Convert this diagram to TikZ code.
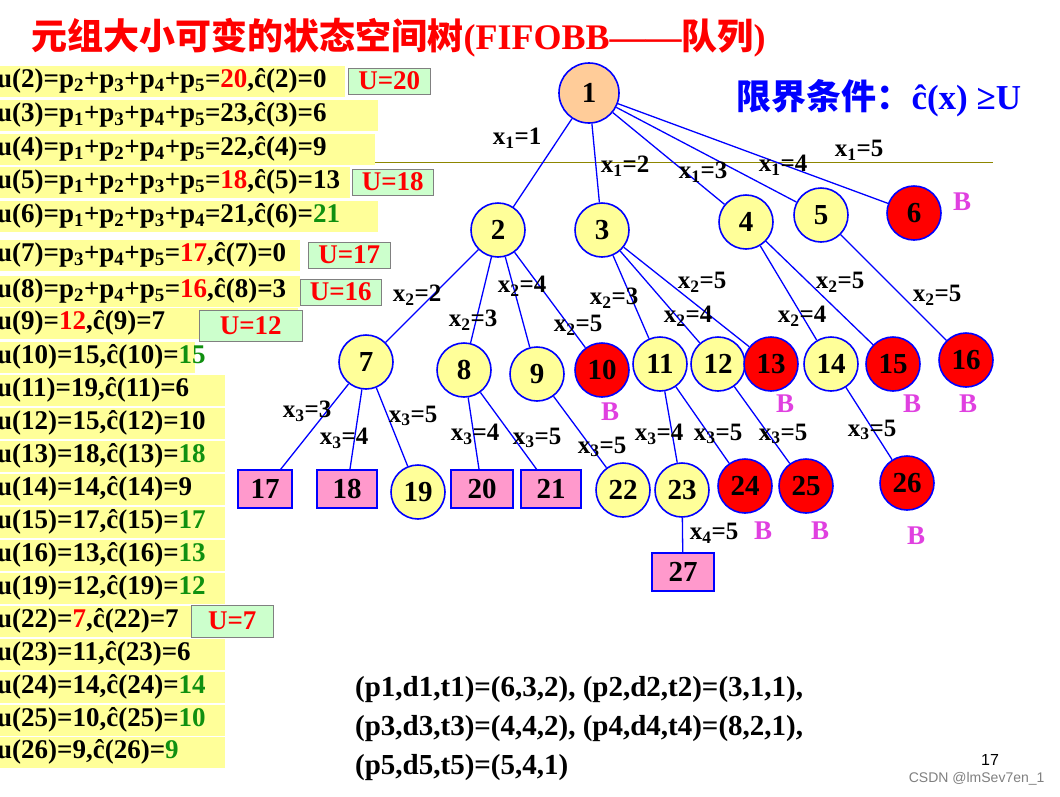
\documentclass[tikz,border=0pt]{standalone}
\usepackage{fontspec}
\setmainfont{Liberation Serif}
\newfontfamily\cjk{Noto Sans CJK SC}
\definecolor{ylw}{HTML}{FFFF99}
\definecolor{pnk}{HTML}{FF99CC}
\definecolor{org}{HTML}{FFCC99}
\definecolor{grn}{HTML}{CCFFCC}
\definecolor{dgrn}{HTML}{109010}
\definecolor{mag}{HTML}{E040E0}
\newcommand{\R}[1]{\textcolor{red}{#1}}
\newcommand{\G}[1]{\textcolor{dgrn}{#1}}
\newcommand{\s}[1]{\textsubscript{#1}}
\begin{document}
\begin{tikzpicture}[x=1pt,y=-1pt,font=\bfseries\fontsize{27}{29}\selectfont,
 cn/.style={circle,draw=blue,line width=1.6pt,fill=ylw,minimum size=54pt,inner sep=0pt,font=\bfseries\fontsize{29}{30}\selectfont},
 rn/.style={cn,fill=red},
 bx/.style={rectangle,draw=blue,line width=1.6pt,fill=pnk,minimum width=54pt,minimum height=38pt,inner sep=0pt,font=\bfseries\fontsize{29}{30}\selectfont},
 ub/.style={draw=gray,fill=grn,text=red,inner sep=1pt,anchor=west,minimum height=26pt,font=\bfseries\fontsize{27}{28}\selectfont},
 el/.style={font=\bfseries\fontsize{25}{26}\selectfont,inner sep=0pt},
 bl/.style={text=mag,font=\bfseries\fontsize{27}{28}\selectfont},
 bt/.style={anchor=west,inner sep=0pt,font=\bfseries\fontsize{29}{30}\selectfont},
 e/.style={draw=blue,line width=1.3pt}]
\useasboundingbox (0,0) rectangle (1060,796);
\fill[white] (0,0) rectangle (1060,796);
\node[anchor=west,text=red,font=\bfseries\fontsize{36}{38}\selectfont] (title) at (28,38) {{\cjk 元组大小可变的状态空间树}(FIFOBB——{\cjk 队列})};
\node[anchor=west,text=blue,font=\bfseries\fontsize{35}{37}\selectfont] (cond) at (733,98) {{\cjk 限界条件：}ĉ(x) ≥U};
\draw[olive,line width=1pt] (375,162) -- (993,162);
% left panel
\foreach \y/\w [count=\i] in {81/345,115/378,149/375,182/350,216/378,255/300,291/300,323/298,357/195,390/225,423/225,456/225,489/225,522/225,555/225,588/225,621/225,654/225,687/225,720/225,752/225}
  \fill[ylw] (0,\y-15.5) rectangle (\w,\y+15.5);
\foreach \y/\t in {
81/{u(2)=p\s2+p\s3+p\s4+p\s5=\R{20},ĉ(2)=0},
115/{u(3)=p\s1+p\s3+p\s4+p\s5=23,ĉ(3)=6},
149/{u(4)=p\s1+p\s2+p\s4+p\s5=22,ĉ(4)=9},
182/{u(5)=p\s1+p\s2+p\s3+p\s5=\R{18},ĉ(5)=13},
216/{u(6)=p\s1+p\s2+p\s3+p\s4=21,ĉ(6)=\G{21}},
255/{u(7)=p\s3+p\s4+p\s5=\R{17},ĉ(7)=0},
291/{u(8)=p\s2+p\s4+p\s5=\R{16},ĉ(8)=3},
323/{u(9)=\R{12},ĉ(9)=7},
357/{u(10)=15,ĉ(10)=\G{15}},
390/{u(11)=19,ĉ(11)=6},
423/{u(12)=15,ĉ(12)=10},
456/{u(13)=18,ĉ(13)=\G{18}},
489/{u(14)=14,ĉ(14)=9},
522/{u(15)=17,ĉ(15)=\G{17}},
555/{u(16)=13,ĉ(16)=\G{13}},
588/{u(19)=12,ĉ(19)=\G{12}},
621/{u(22)=\R{7},ĉ(22)=7},
654/{u(23)=11,ĉ(23)=6},
687/{u(24)=14,ĉ(24)=\G{14}},
720/{u(25)=10,ĉ(25)=\G{10}},
752/{u(26)=9,ĉ(26)=\G{9}}}
  \node[anchor=west,inner sep=0pt] at (-3,\y) {\t};
\node[ub,minimum width=82pt] (u20) at (348,81) {U=20};
\node[ub,minimum width=81pt] (u18) at (352,182) {U=18};
\node[ub,minimum width=82pt] (u17) at (308,255) {U=17};
\node[ub,minimum width=81pt] (u16) at (300,292) {U=16};
\node[ub,minimum width=103pt,minimum height=31pt] (u12) at (199,326) {U=12};
\node[ub,minimum width=82pt,minimum height=32pt] (u7) at (191,621) {U=7};
% tree
\node[cn,fill=org,minimum size=60pt] (n1) at (589,93) {1};
\node[cn] (n2) at (498,230) {2};
\node[cn] (n3) at (602,230) {3};
\node[cn] (n4) at (746,222) {4};
\node[cn] (n5) at (821,215) {5};
\node[rn] (n6) at (914,213) {6};
\node[cn] (n7) at (366,362) {7};
\node[cn] (n8) at (464,370) {8};
\node[cn] (n9) at (537,374) {9};
\node[rn] (n10) at (602,370) {10};
\node[cn] (n11) at (660,364) {11};
\node[cn] (n12) at (718,364) {12};
\node[rn] (n13) at (771,364) {13};
\node[cn] (n14) at (831,364) {14};
\node[rn] (n15) at (893,364) {15};
\node[rn] (n16) at (966,360) {16};
\node[bx] (n17) at (265,489) {17};
\node[bx,minimum width=60pt] (n18) at (347,489) {18};
\node[cn] (n19) at (418,492) {19};
\node[bx,minimum width=62pt] (n20) at (482,489) {20};
\node[bx,minimum width=60pt] (n21) at (551,489) {21};
\node[cn] (n22) at (623,490) {22};
\node[cn] (n23) at (682,490) {23};
\node[rn] (n24) at (745,486) {24};
\node[rn] (n25) at (806,486) {25};
\node[rn] (n26) at (907,483) {26};
\node[bx,minimum width=62pt] (n27) at (683,572) {27};
\foreach \a/\b in {1/2,1/3,1/4,1/5,1/6,2/7,2/8,2/9,2/10,3/11,3/12,3/13,4/14,4/15,5/16,7/17,7/18,7/19,8/20,8/21,9/22,11/23,11/24,12/25,14/26,23/27}
  \draw[e] (n\a) -- (n\b);
% edge labels
\node[el] (l1) at (517,138) {x\s1=1};
\node[el] (l2) at (625,166) {x\s1=2};
\node[el] (l3) at (703,172) {x\s1=3};
\node[el] (l4) at (783,165) {x\s1=4};
\node[el] (l5) at (859,150) {x\s1=5};
\node[el] (l6) at (417,295) {x\s2=2};
\node[el] (l7) at (473,320) {x\s2=3};
\node[el] (l8) at (522,286) {x\s2=4};
\node[el] (l9) at (578,325) {x\s2=5};
\node[el] (l10) at (614,298) {x\s2=3};
\node[el] (l11) at (688,316) {x\s2=4};
\node[el] (l12) at (702,282) {x\s2=5};
\node[el] (l13) at (802,316) {x\s2=4};
\node[el] (l14) at (840,282) {x\s2=5};
\node[el] (l15) at (937,295) {x\s2=5};
\node[el] (l16) at (307,411) {x\s3=3};
\node[el] (l17) at (344,438) {x\s3=4};
\node[el] (l18) at (413,416) {x\s3=5};
\node[el] (l19) at (475,434) {x\s3=4};
\node[el] (l20) at (537,438) {x\s3=5};
\node[el] (l21) at (602,447) {x\s3=5};
\node[el] (l22) at (659,434) {x\s3=4};
\node[el] (l23) at (718,434) {x\s3=5};
\node[el] (l24) at (783,434) {x\s3=5};
\node[el] (l25) at (872,430) {x\s3=5};
\node[el] (l26) at (714,533) {x\s4=5};
\foreach \x/\y [count=\i] in {962/202,610/412,785/404,912/404,968/404,763/531,820/531,916/536}
  \node[bl] (b\i) at (\x,\y) {B};
% bottom
\node[bt] (p1) at (355,690) {(p1,d1,t1)=(6,3,2), (p2,d2,t2)=(3,1,1),};
\node[bt] (p2) at (355,729) {(p3,d3,t3)=(4,4,2), (p4,d4,t4)=(8,2,1),};
\node[bt] (p3) at (355,768) {(p5,d5,t5)=(5,4,1)};
\node[font=\fontsize{16}{17}\selectfont\fontspec{Liberation Sans}] (pg) at (990,760) {17};
\node[anchor=east,text=gray,font=\fontsize{14}{15}\selectfont\fontspec{Liberation Sans}] (wm) at (1048,779) {CSDN @lmSev7en\_1};
\end{tikzpicture}
\end{document}
